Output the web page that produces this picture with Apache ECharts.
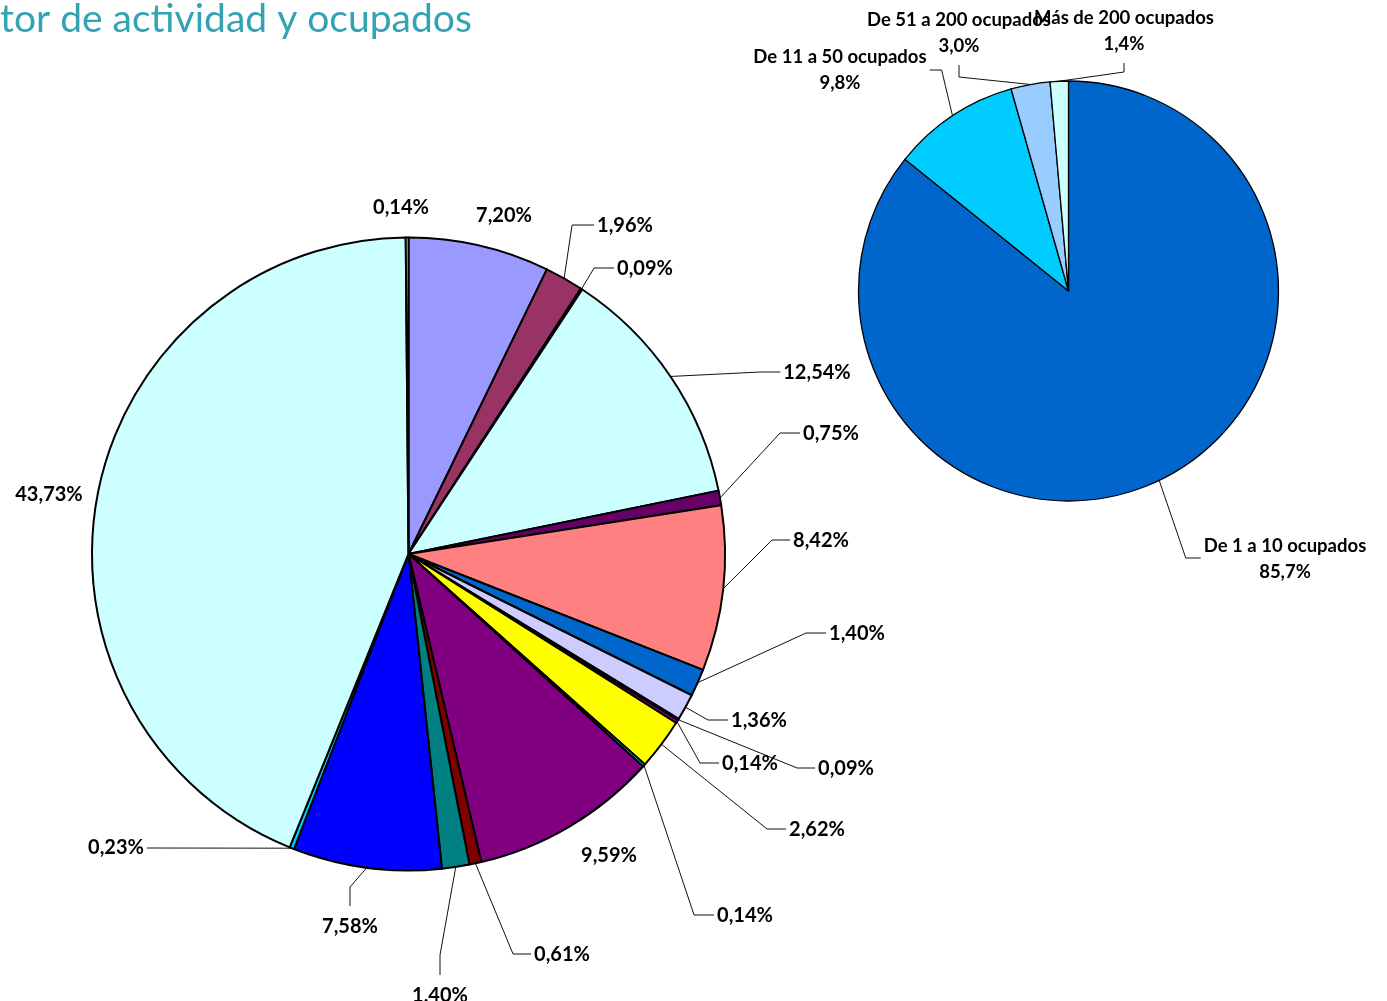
<!DOCTYPE html>
<html>
<head>
<meta charset="utf-8">
<script src="https://cdn.jsdelivr.net/npm/echarts@6/dist/echarts.min.js"></script>
<style>
  html, body { margin: 0; padding: 0; background: #ffffff; }
  #chart { width: 1387px; height: 1001px; }
</style>
</head>
<body>
<div id="chart"></div>
<script>
// Share of establishments by activity sector (%), clockwise from 12 o'clock
const sectorShares = [7.20, 1.96, 0.09, 12.54, 0.75, 8.42, 1.40, 1.36, 0.09, 0.14,
                      2.62, 0.14, 9.59, 0.61, 1.40, 7.58, 0.23, 43.73, 0.14];
const sectorColors = ['#9999FF', '#993366', '#FFFFCC', '#CCFFFF', '#660066', '#FF8080',
                      '#0066CC', '#CCCCFF', '#000080', '#FF00FF', '#FFFF00', '#00FFFF',
                      '#800080', '#800000', '#008080', '#0000FF', '#00CCFF', '#CCFFFF', '#CCFFCC'];

// Share of establishments by number of employees (%)
const sizeBands  = ['De 1 a 10 ocupados', 'De 11 a 50 ocupados', 'De 51 a 200 ocupados', 'Más de 200 ocupados'];
const sizeShares = [85.7, 9.8, 3.0, 1.4];
const sizeColors = ['#0066CC', '#00CCFF', '#99CCFF', '#CCFFFF'];

const titleText = 'tor de actividad y ocupados';

// Label placement: [centre x, centre y, side the leader line enters from, elbow length]
const sectorLabelSpots = [
  [504, 216, 'none'],
  [625, 226, 'L', 22],
  [645, 269, 'L', 20],
  [817, 373, 'L', 20],
  [831, 434, 'L', 20],
  [821, 541, 'L', 18],
  [857, 634, 'L', 20],
  [759, 721, 'L', 20],
  [846, 769, 'L', 18],
  [750, 764, 'L', 19],
  [817, 830, 'L', 19],
  [745, 916, 'L', 20],
  [609, 856, 'none'],
  [562, 955, 'L', 18],
  [440, 996, 'T', 20],
  [350, 927, 'T', 19],
  [116, 848, 'R', 3],
  [49, 495, 'none'],
  [401, 208, 'none']
];
const sizeLabelSpots = [
  [1285, 559, 'L', 15],
  [840, 70, 'R', 12],
  [959, 33, 'B', 12],
  [1124, 31, 'B', 9]
];

function fmt(v, digits) {
  return v.toFixed(digits).replace('.', ',');
}

// Position a label and bend its leader line from the slice edge to the label side
function place(spot, p) {
  const x = spot[0], y = spot[1], side = spot[2], len = spot[3];
  const out = { x: x, y: y, align: 'center', verticalAlign: 'middle' };
  if (side === 'none' || !p.labelLinePoints) return out;
  const w = p.labelRect.width;
  const anchor = p.labelLinePoints[0];
  let end, elbow;
  if (side === 'L') {
    end = [x - w / 2 - 3, y - 1];
    elbow = [end[0] - len, end[1]];
  } else if (side === 'R') {
    end = [x + w / 2 + 3, y];
    elbow = [end[0] + len, end[1]];
  } else if (side === 'T') {
    end = [x, y - 21];
    elbow = [x, end[1] - len];
  } else {
    end = [x, y + 32];
    elbow = [x, end[1] + len];
  }
  out.labelLinePoints = [anchor, elbow, end];
  return out;
}

const labelFont = { fontFamily: 'Lato', fontWeight: 'bold', color: '#000000' };

const chart = echarts.init(document.getElementById('chart'), null, { renderer: 'canvas' });
chart.setOption({
  animation: false,
  backgroundColor: '#ffffff',
  title: {
    text: titleText,
    left: -5,
    top: -5,
    textStyle: { fontFamily: 'Lato', fontWeight: 'normal', fontSize: 39, color: '#31A3B3' }
  },
  series: [
    {
      type: 'pie',
      center: [408.5, 554],
      radius: [0, 316.5],
      startAngle: 90,
      clockwise: true,
      avoidLabelOverlap: false,
      silent: true,
      itemStyle: { borderColor: '#000000', borderWidth: 2 },
      label: Object.assign({
        show: true,
        position: 'outside',
        fontSize: 20,
        formatter: function (p) { return fmt(p.value, 2) + '%'; }
      }, labelFont),
      labelLine: { show: true, length: 10, length2: 10, lineStyle: { color: '#111111', width: 1 } },
      labelLayout: function (p) { return place(sectorLabelSpots[p.dataIndex], p); },
      data: sectorShares.map(function (v, i) {
        return {
          value: v,
          name: 'sector-' + (i + 1),
          itemStyle: { color: sectorColors[i] },
          labelLine: { show: sectorLabelSpots[i][2] !== 'none' }
        };
      })
    },
    {
      type: 'pie',
      center: [1068.5, 291],
      radius: [0, 210],
      startAngle: 90,
      clockwise: true,
      avoidLabelOverlap: false,
      silent: true,
      itemStyle: { borderColor: '#000000', borderWidth: 1.3 },
      label: Object.assign({
        show: true,
        position: 'outside',
        fontSize: 18.5,
        lineHeight: 26,
        align: 'center',
        formatter: function (p) { return p.name + '\n' + fmt(p.value, 1) + '%'; }
      }, labelFont),
      labelLine: { show: true, length: 10, length2: 10, lineStyle: { color: '#111111', width: 1 } },
      labelLayout: function (p) { return place(sizeLabelSpots[p.dataIndex], p); },
      data: sizeShares.map(function (v, i) {
        return { value: v, name: sizeBands[i], itemStyle: { color: sizeColors[i] } };
      })
    }
  ]
});
</script>
</body>
</html>
